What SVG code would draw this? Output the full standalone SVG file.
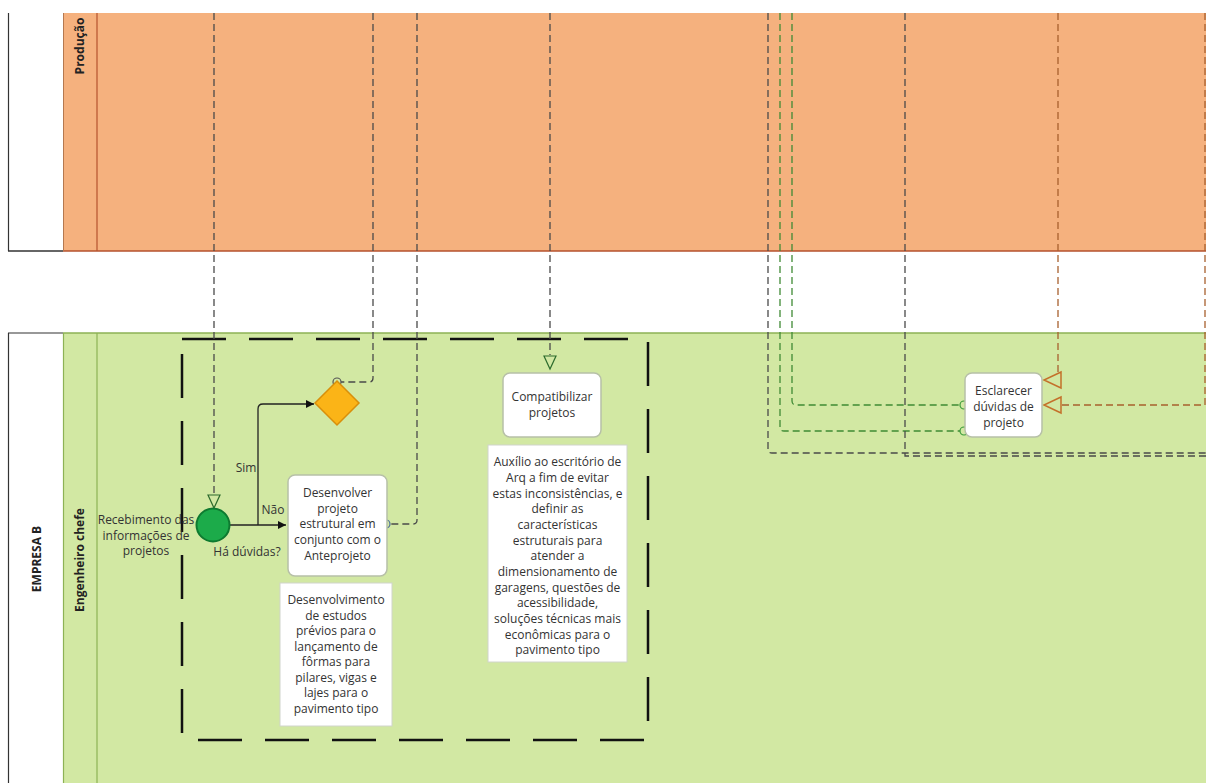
<svg xmlns="http://www.w3.org/2000/svg" width="1206" height="783" viewBox="0 0 1206 783">
<style>
  text { font-family: "Open Sans", "Noto Sans", "Liberation Sans", sans-serif; font-size: 12px; fill: #333; }
  .lane { font-weight: bold; fill: #222; }
  .task { fill: #fff; stroke: #b7c0a8; stroke-width: 1.5; }
  .note { fill: #fff; stroke: #d0d4cc; stroke-width: 1; }
  .msg { fill: none; stroke: #4a4a4a; stroke-width: 1.3; stroke-dasharray: 7 4; }
  .msgg { fill: none; stroke: #3f8a35; stroke-width: 1.3; stroke-dasharray: 7 4; }
  .msgo { fill: none; stroke: #a8602e; stroke-width: 1.3; stroke-dasharray: 7 4; }
  .seq { fill: none; stroke: #222; stroke-width: 1.3; }
  .c { text-anchor: middle; }
</style>
<defs>
  <marker id="arr" viewBox="0 0 10 10" refX="10" refY="5" markerWidth="8" markerHeight="8" orient="auto" markerUnits="userSpaceOnUse">
    <path d="M0,0 L10,5 L0,10 z" fill="#111"/>
  </marker>
</defs>
<rect width="1206" height="783" fill="#fff"/>

<g id="pool-top">
  <rect x="63" y="13" width="1143" height="238" fill="#F5B17E"/>
  <line x1="8.5" y1="13" x2="8.5" y2="251" stroke="#333" stroke-width="1.2"/>
  <line x1="8" y1="251" x2="63" y2="251" stroke="#333" stroke-width="1.5"/>
  <line x1="63" y1="251" x2="1206" y2="251" stroke="#B5522E" stroke-width="1.5"/>
  <line x1="63.5" y1="13" x2="63.5" y2="251" stroke="#B5784F" stroke-width="1"/>
  <line x1="97" y1="13" x2="97" y2="251" stroke="#B5522E" stroke-width="1.2"/>
  <text class="lane c" transform="translate(84,46) rotate(-90)">Produção</text>
</g>

<g id="pool-bottom">
  <rect x="63" y="333" width="1143" height="450" fill="#D2E8A3"/>
  <line x1="8" y1="333" x2="63" y2="333" stroke="#333" stroke-width="1.2"/>
  <line x1="63" y1="333" x2="1206" y2="333" stroke="#8DB255" stroke-width="1.5"/>
  <line x1="8.5" y1="333" x2="8.5" y2="783" stroke="#333" stroke-width="1.2"/>
  <line x1="63.5" y1="333" x2="63.5" y2="783" stroke="#8DB255" stroke-width="1.2"/>
  <line x1="97" y1="333" x2="97" y2="783" stroke="#8DB255" stroke-width="1.2"/>
  <text class="lane c" transform="translate(41,559) rotate(-90)">EMPRESA B</text>
  <text class="lane c" transform="translate(84,560) rotate(-90)">Engenheiro chefe</text>
</g>

<g id="group-box">
  <rect x="182" y="339" width="466" height="401" fill="none" stroke="#111" stroke-width="2.5" stroke-dasharray="44 23"/>
</g>

<g id="connectors">
  <path class="msg" d="M214,13 V495"/>
  <path class="msg" d="M373,13 V378 Q373,382 369,382 H341"/>
  <path class="msg" d="M417,13 V520 Q417,524 413,524 H390"/>
  <path class="msg" d="M550,13 V355"/>
  <path class="msg" d="M768,13 V449 Q768,453 772,453 H1206"/>
  <path class="msgg" d="M780,13 V427 Q780,431 784,431 H960"/>
  <path class="msgg" d="M792,13 V401 Q792,405 796,405 H960"/>
  <path class="msg" d="M905,13 V456 H1206"/>
  <path class="msgo" d="M1058,13 V372"/>
  <path class="msgo" d="M1205,13 V405 H1061"/>
  <path class="seq" d="M230,525 H286" marker-end="url(#arr)"/>
  <path class="seq" d="M258,525 V409 Q258,404 263,404 H314" marker-end="url(#arr)"/>
  <path d="M208,495 L220,495 L214,508 z" fill="none" stroke="#2d6b2d" stroke-width="1.2"/>
  <path d="M544,356 L556,356 L550,369 z" fill="none" stroke="#2d6b2d" stroke-width="1.2"/>
  <path d="M1061,372 L1061,388 L1044,380 z" fill="none" stroke="#c4702a" stroke-width="1.5"/>
  <path d="M1061,397 L1061,413 L1044,405 z" fill="none" stroke="#c4702a" stroke-width="1.5"/>
  <circle cx="337" cy="382" r="4" fill="none" stroke="#555" stroke-width="1.2"/>
  <circle cx="386" cy="524" r="4" fill="none" stroke="#4a6a9a" stroke-width="1.2"/>
  <circle cx="964" cy="405" r="4" fill="none" stroke="#3a9a3a" stroke-width="1.2"/>
  <circle cx="964" cy="431" r="4" fill="none" stroke="#3a9a3a" stroke-width="1.2"/>
  <text class="c" x="246" y="472">Sim</text>
  <text class="c" x="273" y="514">Não</text>
</g>

<g id="start">
  <circle cx="213" cy="525" r="16.5" fill="#1CAB4A" stroke="#0E7A30" stroke-width="2"/>
  <text class="c" x="146" y="524">Recebimento das</text>
  <text class="c" x="146" y="540">informações de</text>
  <text class="c" x="146" y="555">projetos</text>
  <text class="c" x="247" y="556">Há dúvidas?</text>
</g>

<g id="gateway">
  <path d="M337,381 L359,403 L337,425 L315,403 z" fill="#FBB417" stroke="#D88F0B" stroke-width="1.5"/>
</g>

<g id="task-desenvolver">
  <rect class="task" x="288" y="475" width="99" height="101" rx="7"/>
  <text class="c" x="337.5" y="497">Desenvolver</text>
  <text class="c" x="337.5" y="513">projeto</text>
  <text class="c" x="337.5" y="528">estrutural em</text>
  <text class="c" x="337.5" y="544">conjunto com o</text>
  <text class="c" x="337.5" y="560">Anteprojeto</text>
</g>

<g id="note-desenvolver">
  <rect class="note" x="280" y="583" width="112" height="143"/>
  <text class="c" x="336" y="604">Desenvolvimento</text>
  <text class="c" x="336" y="619.5">de estudos</text>
  <text class="c" x="336" y="635">prévios para o</text>
  <text class="c" x="336" y="650.5">lançamento de</text>
  <text class="c" x="336" y="666">fôrmas para</text>
  <text class="c" x="336" y="681.5">pilares, vigas e</text>
  <text class="c" x="336" y="697">lajes para o</text>
  <text class="c" x="336" y="712.5">pavimento tipo</text>
</g>

<g id="task-compatibilizar">
  <rect class="task" x="503" y="373" width="98" height="64" rx="7"/>
  <text class="c" x="552" y="401">Compatibilizar</text>
  <text class="c" x="552" y="417">projetos</text>
</g>

<g id="note-compatibilizar">
  <rect class="note" x="488" y="445" width="139" height="217"/>
  <text class="c" x="557.5" y="466">Auxílio ao escritório de</text>
  <text class="c" x="557.5" y="482">Arq a fim de evitar</text>
  <text class="c" x="557.5" y="497.5">estas inconsistências, e</text>
  <text class="c" x="557.5" y="513">definir as</text>
  <text class="c" x="557.5" y="529">características</text>
  <text class="c" x="557.5" y="544.5">estruturais para</text>
  <text class="c" x="557.5" y="560">atender a</text>
  <text class="c" x="557.5" y="576">dimensionamento de</text>
  <text class="c" x="557.5" y="591.5">garagens, questões de</text>
  <text class="c" x="557.5" y="607">acessibilidade,</text>
  <text class="c" x="557.5" y="623">soluções técnicas mais</text>
  <text class="c" x="557.5" y="638.5">econômicas para o</text>
  <text class="c" x="557.5" y="654">pavimento tipo</text>
</g>

<g id="task-esclarecer">
  <rect class="task" x="965" y="373" width="77" height="64" rx="7"/>
  <text class="c" x="1003.5" y="395">Esclarecer</text>
  <text class="c" x="1003.5" y="411">dúvidas de</text>
  <text class="c" x="1003.5" y="427">projeto</text>
</g>
</svg>
